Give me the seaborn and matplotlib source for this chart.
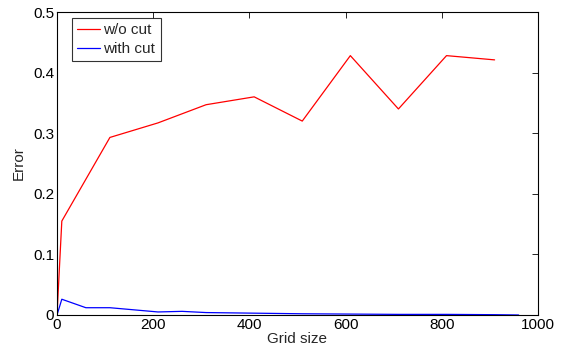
import matplotlib
matplotlib.use("Agg")
import matplotlib.pyplot as plt
import seaborn as sns
import pandas as pd

# Data
x_wo = [0, 10, 110, 210, 310, 410, 510, 610, 710, 810, 910]
err_wo = [0.0, 0.155, 0.293, 0.317, 0.347, 0.360, 0.320, 0.428, 0.340, 0.428, 0.421]
x_with = [0, 10, 60, 110, 210, 260, 310, 410, 510, 610, 710, 810, 910, 960]
err_with = [0.0, 0.026, 0.012, 0.012, 0.005, 0.006, 0.004, 0.003, 0.002, 0.0015, 0.001, 0.001, 0.0005, 0.0]
labels = ["w/o cut", "with cut"]
x_ticks = [0, 200, 400, 600, 800, 1000]
y_ticks = [0, 0.1, 0.2, 0.3, 0.4, 0.5]

df = pd.concat([
    pd.DataFrame({"Grid size": x_wo, "Error": err_wo, "series": labels[0]}),
    pd.DataFrame({"Grid size": x_with, "Error": err_with, "series": labels[1]}),
])

sns.set_style("white")
plt.rcParams["font.family"] = ["Liberation Sans", "DejaVu Sans"]

fig = plt.figure(figsize=(5.65, 3.51), dpi=100)
ax = fig.add_axes([0.1009, 0.1026, 0.8511, 0.8632])
sns.lineplot(data=df, x="Grid size", y="Error", hue="series",
             palette={"w/o cut": "#ff0000", "with cut": "#0000ff"},
             sort=False, estimator=None, linewidth=0.9, ax=ax)

ax.set_xlim(0, 1000)
ax.set_ylim(0, 0.5)
ax.set_xticks(x_ticks)
ax.set_xticklabels([str(t) for t in x_ticks])
ax.set_yticks(y_ticks)
ax.set_yticklabels(["0", "0.1", "0.2", "0.3", "0.4", "0.5"])
ax.tick_params(direction="in", length=4, width=0.6, top=True, right=True,
               labelsize=11, colors="black", pad=2)
for s in ax.spines.values():
    s.set_visible(True)
    s.set_color("black")
    s.set_linewidth(0.8)
ax.set_xlabel("Grid size", fontsize=11, labelpad=0)
ax.set_ylabel("Error", fontsize=11, labelpad=5)

leg = ax.legend(loc="upper left", bbox_to_anchor=(15 / 481, 1 - 6 / 303),
                borderaxespad=0, fontsize=11, frameon=True, fancybox=False,
                edgecolor="black", handlelength=1.45, labelspacing=0.3,
                handletextpad=0.25, borderpad=0.35)
leg.get_frame().set_linewidth(0.8)
leg.set_title(None)

fig.savefig("out.png", dpi=100)
